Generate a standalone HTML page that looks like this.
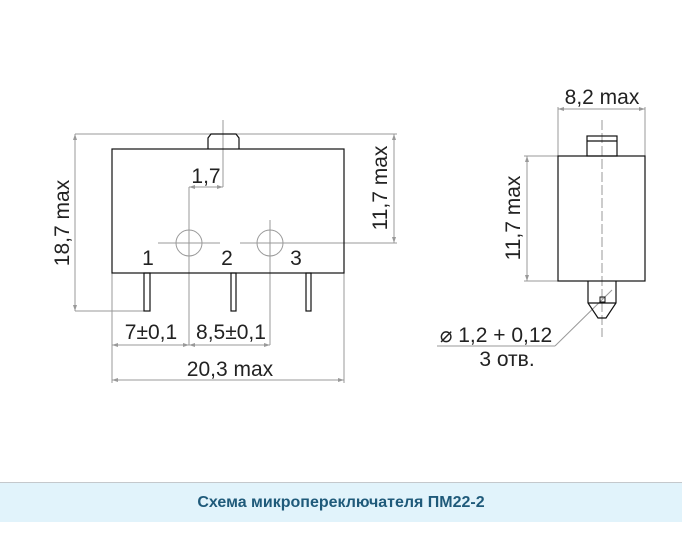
<!DOCTYPE html>
<html><head><meta charset="utf-8"><style>
body{margin:0;width:684px;height:539px;background:#fff;overflow:hidden;font-family:"Liberation Sans",sans-serif}
.band{position:absolute;left:0;top:482px;width:682px;height:39px;background:#e1f3fb;border-top:1px solid #c4c8cc;text-align:center;line-height:39px;font-weight:bold;font-size:16px;color:#1f5a7a;font-family:"Liberation Sans",sans-serif}
</style></head><body>
<svg width="684" height="480" style="position:absolute;left:0;top:0" font-family="Liberation Sans, DejaVu Sans, sans-serif" fill="none">
<g stroke="#999" stroke-width="1">
<line x1="75" y1="134" x2="222" y2="134"/><line x1="75" y1="134" x2="75" y2="311"/><line x1="75" y1="311" x2="145" y2="311"/>
<line x1="230" y1="134" x2="397" y2="134"/><line x1="394" y1="134" x2="394" y2="243"/><line x1="283" y1="243" x2="397" y2="243"/>
<line x1="223" y1="120" x2="223" y2="187"/><line x1="189" y1="187" x2="223" y2="187"/>
<line x1="189" y1="187" x2="189" y2="345"/><line x1="270" y1="220" x2="270" y2="345"/>
<line x1="112" y1="273" x2="112" y2="383"/><line x1="344" y1="273" x2="344" y2="383"/>
<line x1="112" y1="345" x2="270" y2="345"/><line x1="112" y1="380" x2="344" y2="380"/>
<line x1="158" y1="243" x2="220" y2="243"/><line x1="240" y1="243" x2="283" y2="243"/>
<circle cx="189" cy="243" r="13"/><circle cx="270" cy="243" r="13"/>
<line x1="558" y1="107" x2="558" y2="156"/><line x1="645" y1="107" x2="645" y2="156"/><line x1="558" y1="109" x2="645" y2="109"/>
<line x1="524" y1="156" x2="558" y2="156"/><line x1="524" y1="281" x2="558" y2="281"/><line x1="527" y1="156" x2="527" y2="281"/>
<line x1="602" y1="120" x2="602" y2="337" stroke-dasharray="10,3"/>
<line x1="612" y1="290" x2="555" y2="346"/><line x1="555" y1="346" x2="437" y2="346"/>
</g>
<g fill="#999" stroke="none">
<path d="M75 134l-2 6h4zM75 311l-2-6h4zM394 134l-2 6h4zM394 243l-2-6h4zM189 187l6-2v4zM223 187l-6-2v4zM112 345l6-2v4zM189 345l-6-2v4zM189 345l6-2v4zM270 345l-6-2v4zM112 380l6-2v4zM344 380l-6-2v4zM558 109l6-2v4zM645 109l-6-2v4zM527 156l-2 6h4zM527 281l-2-6h4z"/>
</g>
<g stroke="#111" stroke-width="1.2">
<rect x="112" y="149" width="232" height="124"/>
<path d="M208 149v-11l3-4h25l3 4v11"/>
<rect x="144" y="273" width="6" height="38"/><rect x="231" y="273" width="5" height="38"/><rect x="306" y="273" width="5" height="38"/>
<rect x="558" y="156" width="87" height="125"/>
<rect x="587" y="136" width="30" height="20"/><line x1="587" y1="141" x2="617" y2="141"/>
<path d="M588 281v22l10 15h8l10-15v-22M588 303h28"/>
<rect x="600" y="297" width="5" height="5" stroke-width="1"/>
</g>
<g fill="#222" stroke="none" font-size="21">
<text x="206" y="183" text-anchor="middle">1,7</text>
<text x="148" y="265" text-anchor="middle">1</text><text x="227" y="265" text-anchor="middle">2</text><text x="296" y="265" text-anchor="middle">3</text>
<text x="151" y="339" text-anchor="middle">7±0,1</text><text x="231" y="339" text-anchor="middle">8,5±0,1</text>
<text x="230" y="376" text-anchor="middle">20,3 max</text>
<text transform="translate(69 223) rotate(-90)" text-anchor="middle">18,7 max</text>
<text transform="translate(387 188) rotate(-90)" text-anchor="middle">11,7 max</text>
<text transform="translate(520 218) rotate(-90)" text-anchor="middle">11,7 max</text>
<text x="602" y="104" text-anchor="middle">8,2 max</text>
<text x="496" y="342" text-anchor="middle">⌀ 1,2 + 0,12</text>
<text x="507" y="366" text-anchor="middle">3 отв.</text>
</g>
</svg>
<div class="band">Схема микропереключателя ПМ22-2</div>
</body></html>
